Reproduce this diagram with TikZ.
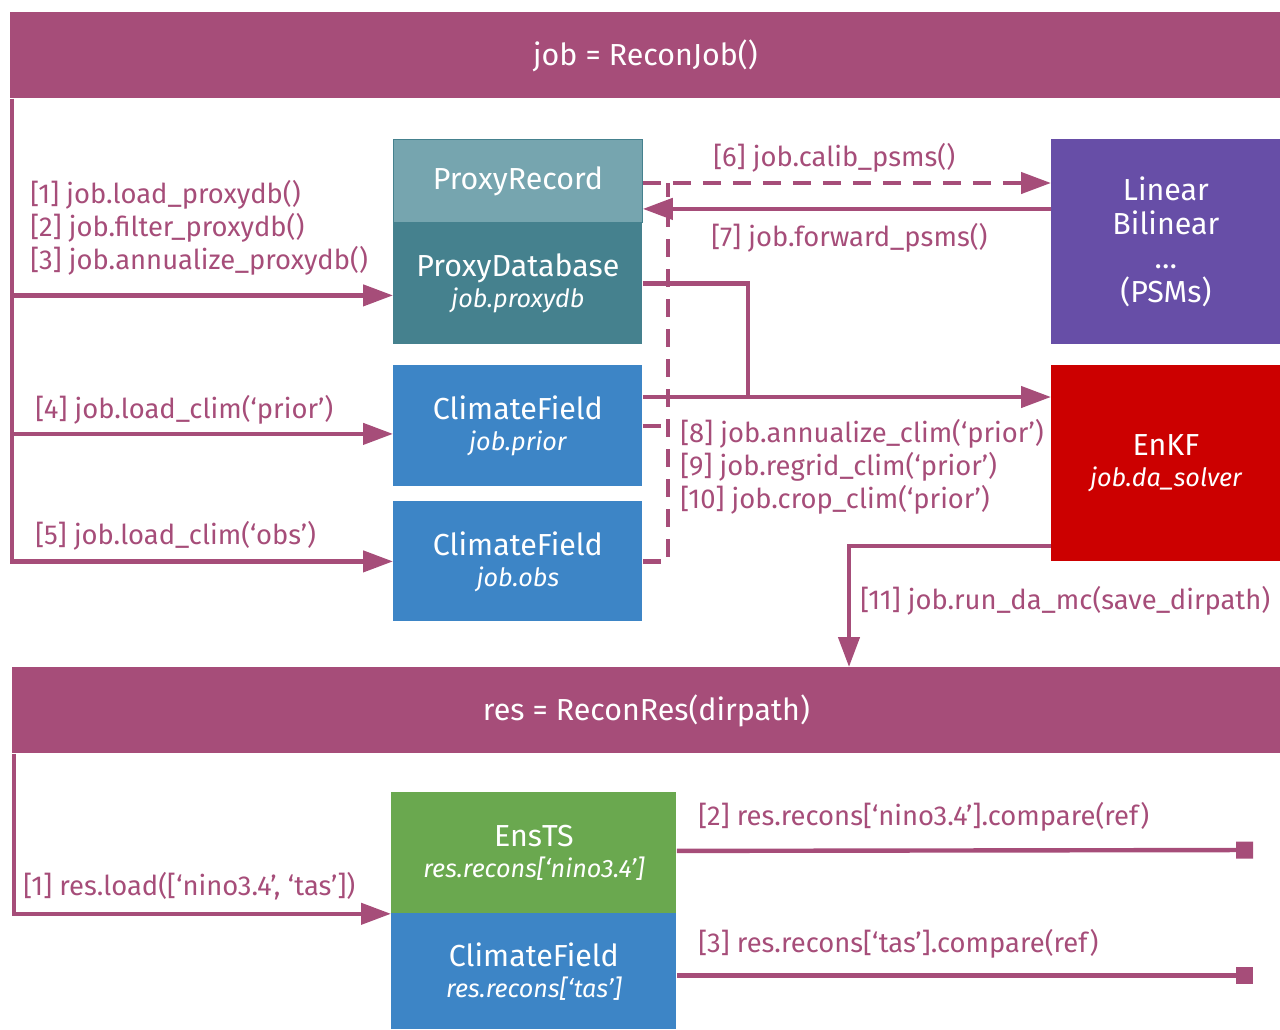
\documentclass[tikz,border=0pt]{standalone}
\usepackage{fontspec}
\setmainfont{Fira Sans}
\usepackage{tikz}
\usetikzlibrary{arrows.meta,positioning,calc}
\definecolor{mag}{HTML}{A64D79}
\definecolor{cyanl}{HTML}{76A5AF}
\definecolor{cyand}{HTML}{45818E}
\definecolor{blu}{HTML}{3D85C6}
\definecolor{purp}{HTML}{674EA7}
\definecolor{redd}{HTML}{CC0000}
\definecolor{grn}{HTML}{6AA84F}
\newcommand{\subt}[1]{{\fontsize{12.6}{15.5}\selectfont\itshape #1}}

\begin{document}
\begin{tikzpicture}[x=0.5pt,y=-0.5pt,>=Latex]
\tikzstyle{bar}=[fill=mag, text=white, inner sep=0pt, anchor=north west, minimum height=43pt, font=\fontsize{15.2}{17}\selectfont]
\tikzstyle{box}=[text=white, align=center, inner sep=0pt, anchor=north west, minimum width=124.5pt, font=\fontsize{15.2}{15.5}\selectfont]
\tikzstyle{lbl}=[text=mag, align=left, inner sep=0pt, anchor=west, font=\fontsize{13.7}{16.5}\selectfont]
\tikzstyle{link}=[draw=mag, line width=2.2pt]
\tikzstyle{flow}=[link, -{Triangle[length=15pt,width=10.5pt]}]
\tikzstyle{calib}=[link, dash pattern=on 9pt off 6pt]
\tikzstyle{cmp}=[link, -{Square[length=8.5pt,width=8.5pt]}]
\useasboundingbox (0,0) rectangle (1280,1029);

% reconstruction job
\node[bar, minimum width=635pt] (jobbar) at (10,12) {job = ReconJob()};
\node[box, fill=cyanl, draw=cyand, line width=0.4pt, minimum height=41.5pt] (prec) at (393,139) {ProxyRecord};
\node[box, fill=cyand, minimum height=61pt] (pdb) at (393,222) {ProxyDatabase\\\subt{job.proxydb}};
\node[box, fill=blu, minimum height=60.5pt] (cfp) at (393,365) {ClimateField\\\subt{job.prior}};
\node[box, fill=blu, minimum height=60pt] (cfo) at (393,501) {ClimateField\\\subt{job.obs}};
\node[box, fill=purp, minimum width=114.5pt, minimum height=102.5pt, font=\fontsize{15.2}{17}\selectfont] (psm) at (1051,139) {Linear\\Bilinear\\…\\(PSMs)};
\node[box, fill=redd, minimum width=114.5pt, minimum height=98pt] (enkf) at (1051,365) {EnKF\\\subt{job.da\_solver}};

\coordinate (dj) at (668,183);
\coordinate (mj) at (748,397);
\coordinate (rj) at (849,546);

\draw[flow] ([xshift=1pt]jobbar.south west) |- ([yshift=-6pt]pdb.west);
\draw[flow] ([xshift=1pt]jobbar.south west) |- ([yshift=-4pt]cfp.west);
\draw[flow] ([xshift=1pt]jobbar.south west) |- (cfo.west);
\draw[calib, -{Triangle[length=15pt,width=10.5pt]}] (prec.east |- dj) -- (psm.west |- dj);
\draw[flow] ([yshift=-14pt]prec.east -| psm.west) -- ([yshift=-14pt]prec.east);
\draw[calib] (cfo.east) -| (dj);
\draw[calib] (cfp.east) -- (cfp.east -| dj);
\draw[link] (pdb.east) -| (mj);
\draw[flow] (cfp.east |- mj) -- (enkf.west |- mj);

\node[lbl] (l1) at (30,228) {[1] job.load\_proxydb()\\{}[2] job.filter\_proxydb()\\{}[3] job.annualize\_proxydb()};
\node[lbl] (l4) at (35,410) {[4] job.load\_clim(‘prior’)};
\node[lbl] (l5) at (35,536) {[5] job.load\_clim(‘obs’)};
\node[lbl] (l6) at (713,158) {[6] job.calib\_psms()};
\node[lbl] (l7) at (711,238) {[7] job.forward\_psms()};
\node[lbl] (l8) at (680,467) {[8] job.annualize\_clim(‘prior’)\\{}[9] job.regrid\_clim(‘prior’)\\{}[10] job.crop\_clim(‘prior’)};

% reconstruction result
\node[bar, minimum width=634pt] (resbar) at (12,667) {res = ReconRes(dirpath)};
\node[box, fill=grn, minimum width=142.5pt, minimum height=60.5pt] (ens) at (391,792) {EnsTS\\\subt{res.recons[‘nino3.4’]}};
\node[box, fill=blu, minimum width=142.5pt, minimum height=58pt] (cfr) at (391,913) {ClimateField\\\subt{res.recons[‘tas’]}};
\coordinate (ee) at (1253,850);

\draw[flow] (enkf.west |- rj) -- (rj) -- (rj |- resbar.north);
\draw[flow] ([xshift=1pt]resbar.south west) |- (ens.south west);
\draw[cmp] ([yshift=1pt]ens.east) -- (ee);
\draw[cmp] ([yshift=-2pt]cfr.east) -- ([yshift=-2pt]cfr.east -| ee);

\node[lbl] (l11) at (860,601) {[11] job.run\_da\_mc(save\_dirpath)};
\node[lbl] (r1) at (23,886) {[1] res.load([‘nino3.4’, ‘tas’])};
\node[lbl] (r2) at (698,817) {[2] res.recons[‘nino3.4’].compare(ref)};
\node[lbl] (r3) at (698,944) {[3] res.recons[‘tas’].compare(ref)};
\end{tikzpicture}
\end{document}
